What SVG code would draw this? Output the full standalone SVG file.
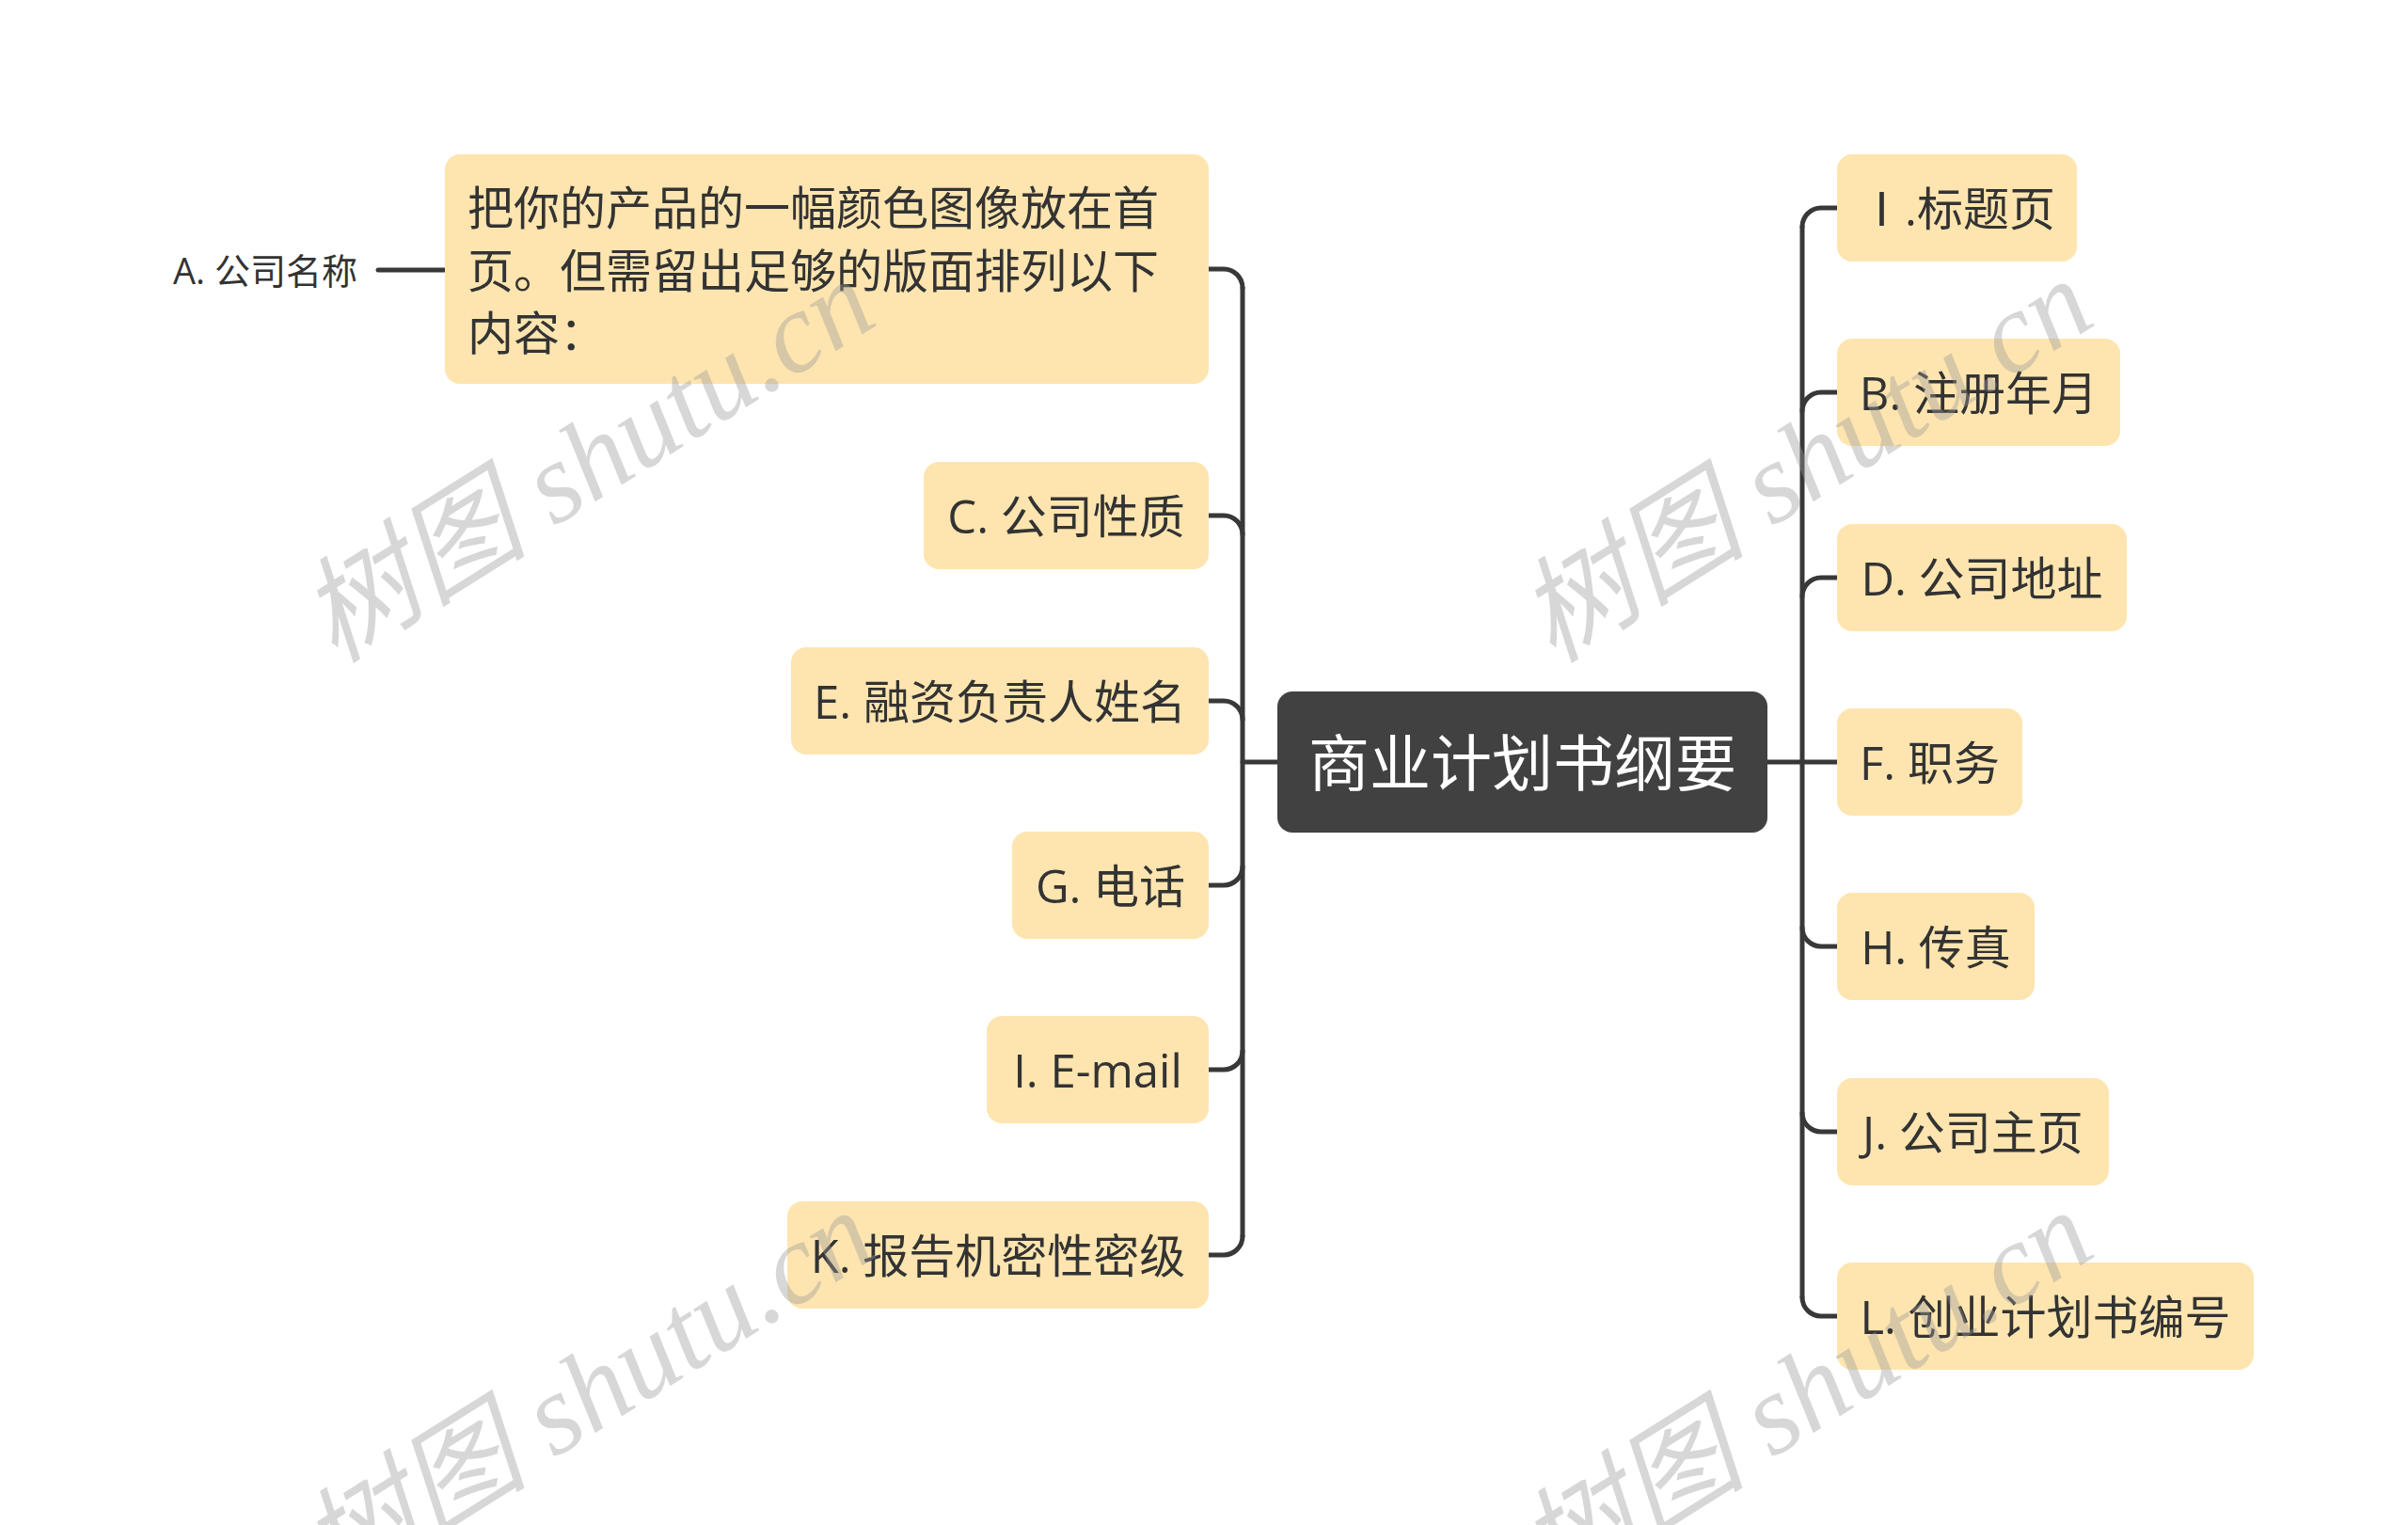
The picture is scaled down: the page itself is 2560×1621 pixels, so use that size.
<svg xmlns="http://www.w3.org/2000/svg" width="2560" height="1621" viewBox="0 0 2560 1621">
<style>
.box{fill:#FEE5AF;}
.root{fill:#414141;}
.t{font-family:"Open Sans","Noto Sans CJK SC",sans-serif;font-size:49px;fill:#333333;dominant-baseline:central;}
.tm{text-anchor:middle;}
.rt{font-family:"Open Sans","Noto Sans CJK SC",sans-serif;font-size:65px;fill:#ffffff;text-anchor:middle;dominant-baseline:central;}
.lbl{font-family:"Open Sans","Noto Sans CJK SC",sans-serif;font-size:38px;fill:#333333;dominant-baseline:central;}
.c{fill:none;stroke:#383838;stroke-width:5;stroke-linecap:round;}
.wm{font-family:"Liberation Serif","Noto Sans CJK SC",serif;font-style:italic;font-size:122px;fill:#9a9a9a;fill-opacity:0.4;}
</style>
<rect width="2560" height="1621" fill="#ffffff"/>
<g id="connectors">
  <path class="c" d="M402,287 H473"/>
  <path class="c" d="M1321,810 H1358"/>
  <path class="c" d="M1879,810 H1916"/>
  <path class="c" d="M1321,306 V1314"/>
  <path class="c" d="M1285,286 H1301 A20,20 0 0 1 1321,306"/>
  <path class="c" d="M1285,548 H1301 A20,20 0 0 1 1321,568"/>
  <path class="c" d="M1285,745 H1301 A20,20 0 0 1 1321,765"/>
  <path class="c" d="M1285,941 H1301 A20,20 0 0 0 1321,921"/>
  <path class="c" d="M1285,1137 H1301 A20,20 0 0 0 1321,1117"/>
  <path class="c" d="M1285,1334 H1301 A20,20 0 0 0 1321,1314"/>
  <path class="c" d="M1916,241 V1379"/>
  <path class="c" d="M1953,221 H1936 A20,20 0 0 0 1916,241"/>
  <path class="c" d="M1953,417 H1936 A20,20 0 0 0 1916,437"/>
  <path class="c" d="M1953,614 H1936 A20,20 0 0 0 1916,634"/>
  <path class="c" d="M1916,810 H1953"/>
  <path class="c" d="M1953,1006 H1936 A20,20 0 0 1 1916,986"/>
  <path class="c" d="M1953,1203 H1936 A20,20 0 0 1 1916,1183"/>
  <path class="c" d="M1953,1399 H1936 A20,20 0 0 1 1916,1379"/>
</g>
<g id="root">
  <rect class="root" x="1358" y="735" width="521" height="150" rx="16"/>
  <text class="rt" x="1618.5" y="810">商业计划书纲要</text>
</g>
<g id="node-a-label">
  <text class="lbl" x="184" y="287">A. 公司名称</text>
</g>
<g id="node-a-desc">
  <rect class="box" x="473" y="164" width="812" height="244" rx="16"/>
  <text class="t" x="497" y="220">把你的产品的一幅颜色图像放在首</text>
  <text class="t" x="497" y="287">页。但需留出足够的版面排列以下</text>
  <text class="t" x="497" y="353">内容：</text>
</g>
<g id="node-c">
  <rect class="box" x="982" y="491" width="303" height="114" rx="16"/>
  <text class="t tm" x="1133.5" y="548">C. 公司性质</text>
</g>
<g id="node-e">
  <rect class="box" x="841" y="688" width="444" height="114" rx="16"/>
  <text class="t tm" x="1063" y="745">E. 融资负责人姓名</text>
</g>
<g id="node-g">
  <rect class="box" x="1076" y="884" width="209" height="114" rx="16"/>
  <text class="t tm" x="1180.5" y="941">G. 电话</text>
</g>
<g id="node-email">
  <rect class="box" x="1049" y="1080" width="236" height="114" rx="16"/>
  <text class="t tm" x="1167" y="1137">I. E-mail</text>
</g>
<g id="node-k">
  <rect class="box" x="837" y="1277" width="448" height="114" rx="16"/>
  <text class="t tm" x="1061" y="1334">K. 报告机密性密级</text>
</g>
<g id="node-title">
  <rect class="box" x="1953" y="164" width="255" height="114" rx="16"/>
  <text class="t tm" x="2080.5" y="221">Ⅰ.标题页</text>
</g>
<g id="node-b">
  <rect class="box" x="1953" y="360" width="301" height="114" rx="16"/>
  <text class="t tm" x="2103.5" y="417">B. 注册年月</text>
</g>
<g id="node-d">
  <rect class="box" x="1953" y="557" width="308" height="114" rx="16"/>
  <text class="t tm" x="2107" y="614">D. 公司地址</text>
</g>
<g id="node-f">
  <rect class="box" x="1953" y="753" width="197" height="114" rx="16"/>
  <text class="t tm" x="2051.5" y="810">F. 职务</text>
</g>
<g id="node-h">
  <rect class="box" x="1953" y="949" width="210" height="114" rx="16"/>
  <text class="t tm" x="2058" y="1006">H. 传真</text>
</g>
<g id="node-j">
  <rect class="box" x="1953" y="1146" width="289" height="114" rx="16"/>
  <text class="t tm" x="2097.5" y="1203">J. 公司主页</text>
</g>
<g id="node-l">
  <rect class="box" x="1953" y="1342" width="443" height="114" rx="16"/>
  <text class="t tm" x="2174.5" y="1399">L. 创业计划书编号</text>
</g>
<g id="watermarks">
  <text class="wm" transform="translate(356,706) rotate(-32)">树图 shutu.cn</text>
  <text class="wm" transform="translate(1651,706) rotate(-32)">树图 shutu.cn</text>
  <text class="wm" transform="translate(356,1696) rotate(-32)">树图 shutu.cn</text>
  <text class="wm" transform="translate(1651,1696) rotate(-32)">树图 shutu.cn</text>
</g>
</svg>
